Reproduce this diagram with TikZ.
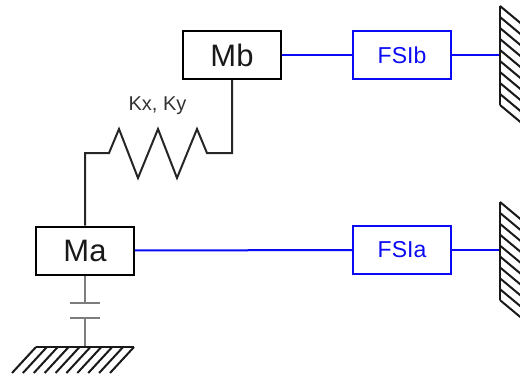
\documentclass[tikz,border=0pt]{standalone}
\usepackage{fontspec}
\setmainfont{Liberation Sans}
\definecolor{fsiblue}{RGB}{10,10,245}
\definecolor{dampgray}{RGB}{125,125,125}
\tikzset{
  x=1pt,y=-1pt,
  mass/.style={draw=black,line width=2pt,minimum width=98pt,minimum height=48pt,inner sep=0pt,font=\fontsize{31}{31}\selectfont,text=black!90},
  fsi/.style={draw=fsiblue,line width=2pt,minimum width=98pt,minimum height=48pt,inner sep=0pt,font=\fontsize{23}{23}\selectfont,text=fsiblue},
  blueline/.style={draw=fsiblue,line width=2pt},
  blackline/.style={draw=black!85,line width=2pt,line join=miter},
  hatch/.style={draw=black!90,line width=2pt},
  grayline/.style={draw=dampgray,line width=2pt}
}
\begin{document}
\begin{tikzpicture}
\useasboundingbox (0,0) rectangle (520,376);
\node[mass] (mb) at (232,55) {Mb};
\node[mass] (ma) at (85,250.5) {Ma};
\node[fsi] (fb) at (402,55) {FSIb};
\node[fsi] (fa) at (402,250) {FSIa};
\node[font=\fontsize{20}{20}\selectfont,text=black!80,inner sep=0pt] (k) at (157.5,106) {Kx, Ky};
% walls
\coordinate (wbt) at (500,6);
\coordinate (wbb) at (500,105);
\coordinate (wat) at (500,202);
\coordinate (wab) at (500,300);
\coordinate (wbm) at (500,55);
\coordinate (wam) at (500,250);
\draw[blueline] (fb) -- (mb);
\draw[blueline] (fb) -- (wbm);
\draw[blueline] (fa) -- (wam);
\draw[blueline] (fa) -- (ma);
\begin{scope}
\clip (490,0) rectangle (520,376);
\foreach \i in {0,...,9}{
  \draw[hatch] (500,6+\i*11) -- ++(24,20);
  \draw[hatch] (500,202+\i*10.9) -- ++(24,20);
}
\end{scope}
\draw[hatch] (wbt) -- (wbb);
\draw[hatch] (wat) -- (wab);
% spring
\coordinate (s0) at (85,153);
\coordinate (s1) at (109,153);
\coordinate (s2) at (119,129);
\coordinate (s3) at (138,178);
\coordinate (s4) at (158,129);
\coordinate (s5) at (177,178);
\coordinate (s6) at (197,129);
\coordinate (s7) at (207,153);
\coordinate (s8) at (232,153);
\draw[blackline] (ma.north) -- (s0) -- (s1) -- (s2) -- (s3) -- (s4) -- (s5) -- (s6) -- (s7) -- (s8) -- (mb.south);
% damper
\coordinate (c1) at (85,303);
\coordinate (c2) at (85,318);
\coordinate (c1l) at (70,303);
\coordinate (c1r) at (100,303);
\coordinate (c2l) at (70,318);
\coordinate (c2r) at (100,318);
\coordinate (g) at (85,347);
\draw[grayline] (ma.south) -- (c1);
\draw[grayline] (c1l) -- (c1r);
\draw[grayline] (c2l) -- (c2r);
\draw[grayline] (c2) -- (g);
% ground
\draw[hatch] (36,347) -- (134,347);
\foreach \i in {0,...,9}{
  \draw[hatch] (36+\i*10.89,347) -- ++(-24,26);
}
\end{tikzpicture}
\end{document}
